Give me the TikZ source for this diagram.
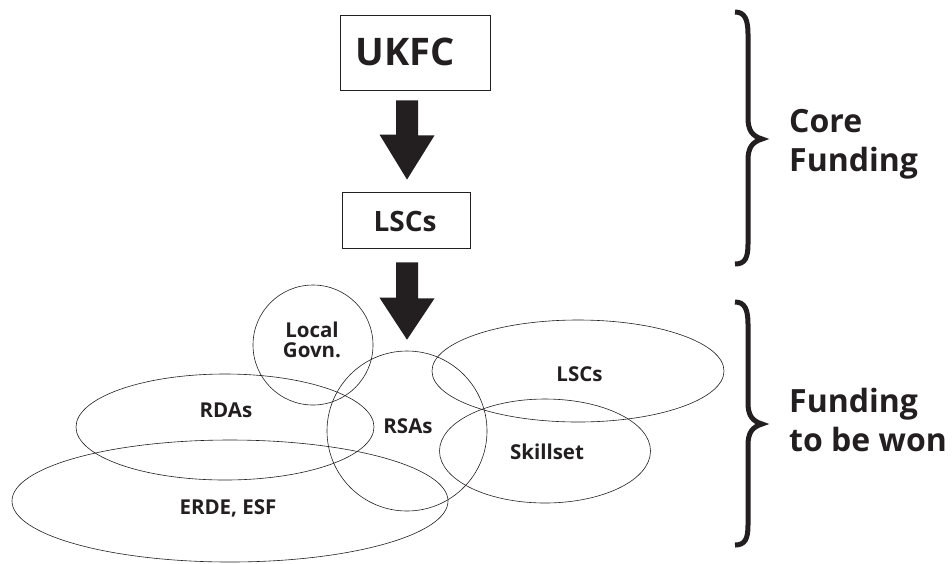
\documentclass[tikz,border=0pt]{standalone}
\usepackage{fontspec}
\setmainfont{Open Sans}
\usetikzlibrary{shapes.geometric,calc}
\definecolor{ink}{RGB}{35,31,32}
\begin{document}
\begin{tikzpicture}[x=1pt,y=-1pt, color=ink,
  box/.style={draw=ink, line width=0.9pt, inner sep=0pt},
  blob/.style={draw=ink, ellipse, line width=0.6pt, inner sep=0pt},
  ring/.style={draw=ink, circle, line width=0.6pt, inner sep=0pt},
  lbl/.style={text=ink, font=\bfseries\fontsize{20.5}{20.5}\selectfont, inner sep=0pt, anchor=base},
  side/.style={text=ink, font=\bfseries\fontsize{32}{32}\selectfont, anchor=base west, inner sep=0pt},
  bigarrow/.style={fill=ink},
  curly/.style={draw=ink, line width=5pt, line cap=butt, line join=miter, miter limit=20}
]
\useasboundingbox (0,0) rectangle (952,563);

% boxes
\node[box, minimum width=150pt, minimum height=75pt] (ukfc) at (415,52.5) {};
\node[text=ink, font=\bfseries\fontsize{38}{38}\selectfont, inner sep=0pt] (ukfct) at (405,52) {UKFC};
\node[box, minimum width=128pt, minimum height=56pt] (lscbox) at (406,220) {};
\node[text=ink, font=\bfseries\fontsize{28}{28}\selectfont, inner sep=0pt] (lscboxt) at (405,221) {LSCs};

% circles and ellipses
\node[blob, minimum width=436pt, minimum height=122pt] (erde) at (230,501) {};
\node[blob, minimum width=298pt, minimum height=106pt] (rdas) at (225,427) {};
\node[ring, minimum size=120pt] (local) at (313,345) {};
\node[ring, minimum size=160pt] (rsas) at (407,431) {};
\node[blob, minimum width=292pt, minimum height=102pt] (lscs) at (578,371) {};
\node[blob, minimum width=211pt, minimum height=104pt] (skill) at (545,451) {};

% labels
\node[lbl] (localt) at (312,337) {Local};
\node[lbl] (govnt) at (312,357) {Govn.};
\node[lbl] (rdast) at (226,417) {RDAs};
\node[lbl] (erdet) at (228,514) {ERDE, ESF};
\node[lbl] (rsast) at (408,433) {RSAs};
\node[lbl] (lscst) at (579.5,381) {LSCs};
\node[lbl] (skillt) at (547,459) {Skillset};

% block arrows
\fill[bigarrow] ($(ukfc.south)+(-19,10)$) -- ++(22,0) -- ++(0,35) -- ++(16.5,0)
  -- ($(lscbox.north)+(1,-12)$) -- ++(-27.5,-45) -- ++(16.5,0) -- cycle;
\fill[bigarrow] ($(lscbox.south)+(-10,14)$) -- ++(22,0) -- ++(0,36) -- ++(16.5,0)
  -- ($(rsas.north)+(0,-11)$) -- ++(-27.5,-42) -- ++(16.5,0) -- cycle;

% braces
\draw[curly] (735,12) .. controls (745,12) and (748,20) .. (748,34)
  -- (748,118) .. controls (748,130) and (752,136) .. (762,139)
  .. controls (752,142) and (748,148) .. (748,160)
  -- (748,244) .. controls (748,258) and (745,264) .. (735,264);
\draw[curly] (735,302) .. controls (745,302) and (748,310) .. (748,324)
  -- (748,403) .. controls (748,415) and (752,421) .. (762,424)
  .. controls (752,427) and (748,433) .. (748,445)
  -- (748,525) .. controls (748,539) and (745,545) .. (735,545);
\node[side] (core1) at (789,132) {Core};
\node[side] (core2) at (789,171) {Funding};
\node[side] (won1) at (789,412) {Funding};
\node[side] (won2) at (789,451) {to be won};
\end{tikzpicture}
\end{document}
